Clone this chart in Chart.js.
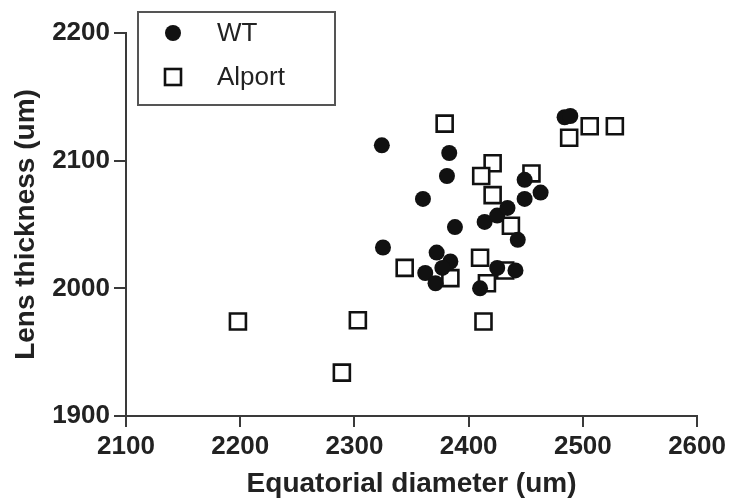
<!DOCTYPE html>
<html>
<head>
<meta charset="utf-8">
<script src="https://cdn.jsdelivr.net/npm/chart.js@4.4.0/dist/chart.umd.min.js"></script>
<style>
  html, body { margin: 0; padding: 0; background: #fff; }
  #wrap { width: 730px; height: 498px; }
</style>
</head>
<body>
<div id="wrap"><canvas id="lensChart" width="730" height="498"></canvas></div>
<script>
// WT (filled circles): equatorial diameter / lens thickness, in um
const wtDiameter = [2324, 2383, 2381, 2360, 2449, 2463, 2449, 2388, 2325, 2414, 2425, 2434,
                    2443, 2372, 2384, 2362, 2371, 2377, 2425, 2441, 2410, 2484, 2489];
const wtThickness = [2112, 2106, 2088, 2070, 2085, 2075, 2070, 2048, 2032, 2052, 2057, 2063,
                     2038, 2028, 2021, 2012, 2004, 2016, 2016, 2014, 2000, 2134, 2135];

// Alport (open squares)
const alportDiameter = [2379, 2488, 2506, 2528, 2421, 2411, 2455, 2421, 2437, 2344, 2410, 2432,
                        2384, 2416, 2198, 2303, 2289, 2413];
const alportThickness = [2129, 2118, 2127, 2127, 2098, 2088, 2090, 2073, 2049, 2016, 2024, 2014,
                         2008, 2004, 1974, 1975, 1934, 1974];

const xTicks = [2100, 2200, 2300, 2400, 2500, 2600];
const yTicks = [1900, 2000, 2100, 2200];
const seriesNames = ['WT', 'Alport'];

function toPoints(xs, ys) {
  return xs.map((x, i) => ({ x: x, y: ys[i] }));
}

const axisColor = '#3a3a3a';
const tickFont = { family: 'Liberation Sans, Arial, sans-serif', size: 26, weight: 'bold' };
const titleFont = { family: 'Liberation Sans, Arial, sans-serif', size: 28, weight: 'bold', lineHeight: 1 };

// legend box drawn inside the plot, top left
const boxLegend = {
  id: 'boxLegend',
  afterDraw(chart) {
    const ctx = chart.ctx;
    ctx.save();
    ctx.strokeStyle = '#555';
    ctx.lineWidth = 2;
    ctx.strokeRect(138, 12, 197, 93);

    // WT marker
    ctx.fillStyle = '#111';
    ctx.beginPath();
    ctx.arc(173, 33, 8, 0, Math.PI * 2);
    ctx.fill();
    // Alport marker
    ctx.strokeStyle = '#111';
    ctx.lineWidth = 2.6;
    ctx.fillStyle = '#fff';
    ctx.fillRect(165, 69, 16, 16);
    ctx.strokeRect(165, 69, 16, 16);

    ctx.fillStyle = '#222';
    ctx.font = '26px Liberation Sans, Arial, sans-serif';
    ctx.textBaseline = 'middle';
    ctx.fillText(seriesNames[0], 217, 34);
    ctx.fillText(seriesNames[1], 217, 78);
    ctx.restore();
  }
};

const ctx = document.getElementById('lensChart').getContext('2d');
const lensChart = new Chart(ctx, {
  type: 'scatter',
  data: {
    datasets: [{
      label: seriesNames[0],
      data: toPoints(wtDiameter, wtThickness),
      pointStyle: 'circle',
      pointRadius: 8,
      pointHoverRadius: 8,
      backgroundColor: '#111',
      borderWidth: 0
    }, {
      label: seriesNames[1],
      data: toPoints(alportDiameter, alportThickness),
      pointStyle: 'rect',
      pointRadius: 11.3,
      pointHoverRadius: 11.3,
      backgroundColor: '#fff',
      borderColor: '#111',
      borderWidth: 2.6
    }]
  },
  options: {
    responsive: false,
    animation: false,
    events: [],
    layout: { padding: { top: 33, right: 30, left: 0, bottom: 0 } },
    plugins: {
      legend: { display: false },
      tooltip: { enabled: false }
    },
    scales: {
      x: {
        type: 'linear',
        min: 2100,
        max: 2600,
        afterFit: s => { s.height = 82; },
        afterBuildTicks: s => { s.ticks = xTicks.map(v => ({ value: v })); },
        border: { display: true, color: axisColor, width: 2 },
        grid: { drawOnChartArea: false, drawTicks: true, tickLength: 11, color: axisColor, lineWidth: 2 },
        ticks: { color: '#222', font: tickFont, padding: 4, maxRotation: 0, callback: v => String(v) },
        title: { display: true, text: 'Equatorial diameter (um)', color: '#222', font: titleFont, padding: { top: 0, bottom: 0 } }
      },
      y: {
        type: 'linear',
        min: 1900,
        max: 2200,
        afterFit: s => { s.width = 126; },
        afterBuildTicks: s => { s.ticks = yTicks.map(v => ({ value: v })); },
        border: { display: true, color: axisColor, width: 2 },
        grid: { drawOnChartArea: false, drawTicks: true, tickLength: 12, color: axisColor, lineWidth: 2 },
        ticks: { color: '#222', font: tickFont, padding: 4, callback: v => String(v) },
        title: { display: true, text: 'Lens thickness (um)', color: '#222', font: titleFont, padding: { top: 12, bottom: 0 } }
      }
    }
  },
  plugins: [boxLegend]
});
</script>
</body>
</html>
